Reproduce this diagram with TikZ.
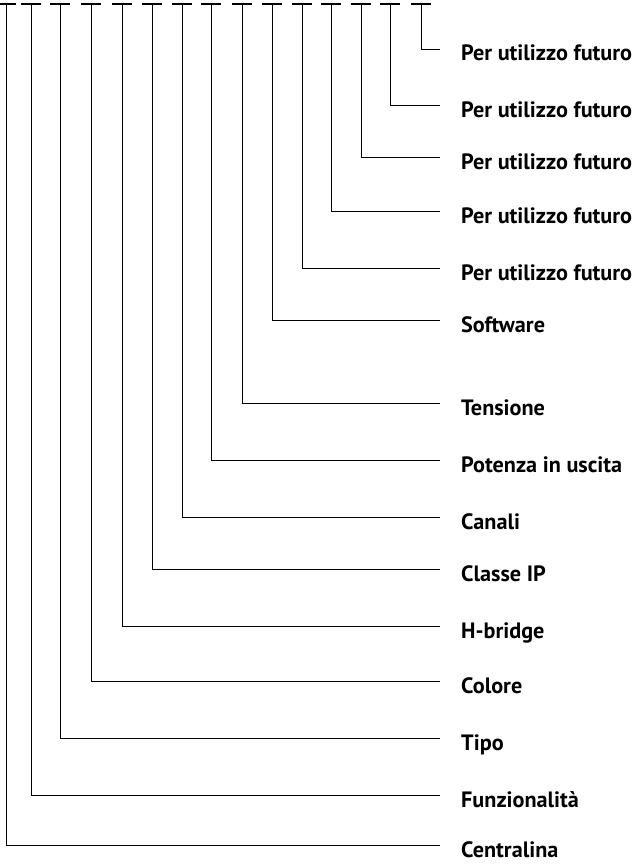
\documentclass[tikz,border=0pt]{standalone}
\usepackage{fontspec}
\setmainfont{PT Sans}
\begin{document}
\begin{tikzpicture}[x=1pt,y=-1pt,
    lbl/.style={anchor=west, inner sep=0pt, text height=24pt, text depth=0pt,
      font=\fontsize{22.2}{26}\selectfont\bfseries},
    wire/.style={line width=0.9pt, shorten >=21pt},
    cap bar/.style={line width=1.6pt}]
  \useasboundingbox (0,0) rectangle (635,867);

  % Code positions: column x, branch y, meaning
  \foreach \cx/\cy/\txt [count=\i] in {
      421/49/Per utilizzo futuro,
      390/105/Per utilizzo futuro,
      361/157/Per utilizzo futuro,
      331/211/Per utilizzo futuro,
      302/268/Per utilizzo futuro,
      272/320/Software,
      242/403/Tensione,
      211/460/Potenza in uscita,
      182/517/Canali,
      152/569/Classe IP,
      122/626/H-bridge,
      91/681/Colore,
      60/738/Tipo,
      31/795/Funzionalità,
      6/845/Centralina} {
    \coordinate (t\i) at (\cx,4);
    \node[lbl] (l\i) at (461,\cy) {\txt};
    \draw[cap bar] ([xshift=-10pt]t\i) -- ([xshift=10pt]t\i);
    \draw[wire] (t\i) |- (l\i);
  }
\end{tikzpicture}
\end{document}
